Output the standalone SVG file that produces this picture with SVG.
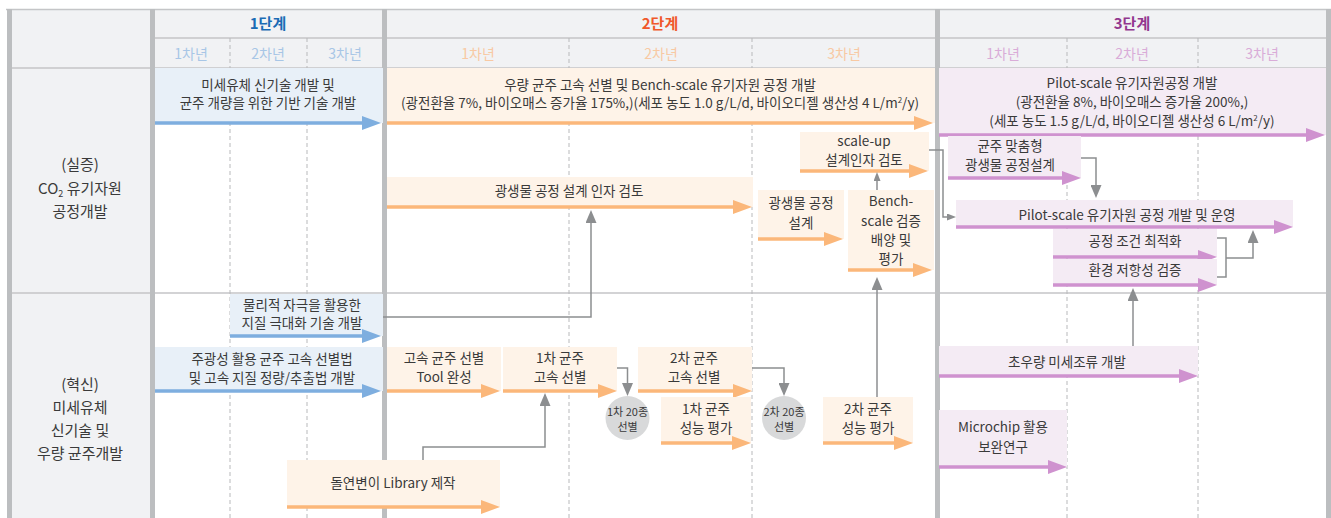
<svg xmlns="http://www.w3.org/2000/svg" width="1331" height="518" viewBox="0 0 1331 518">
<style>
text{font-family:"Noto Sans CJK KR","Noto Sans",sans-serif;fill:#3a3a3a;font-size:13.5px;text-anchor:middle}
.hd{font-size:15px;font-weight:bold}
.yr{font-size:14px}
.lb{font-size:15px}
.bb{fill:#e8f0f8}.bo{fill:#fef3e8}.bp{fill:#f4ebf4}
.ab{stroke:#7eaedf;stroke-width:3.5;fill:none;marker-end:url(#mb)}
.ao{stroke:#fbb77a;stroke-width:3.5;fill:none;marker-end:url(#mo)}
.ap{stroke:#cf92cf;stroke-width:3.5;fill:none;marker-end:url(#mp)}
.cg{stroke:#8c8e90;stroke-width:1.5;fill:none}
.gl{marker-end:url(#mg)}
.gs{marker-end:url(#ms)}
.dash{stroke:#b8b9bb;stroke-width:1;stroke-dasharray:4 3}
.thin{stroke:#c4c5c7;stroke-width:1.5}
.sep{fill:#bcbec0}
.circ{fill:#d8d9da}
.ct{font-size:11px}
</style>
<defs>
<marker id="mb" markerUnits="userSpaceOnUse" markerWidth="19" markerHeight="14" refX="7" refY="7" orient="auto"><path d="M0,0 L19,7 L0,14 z" fill="#7eaedf"/></marker>
<marker id="mo" markerUnits="userSpaceOnUse" markerWidth="19" markerHeight="14" refX="7" refY="7" orient="auto"><path d="M0,0 L19,7 L0,14 z" fill="#fbb77a"/></marker>
<marker id="mp" markerUnits="userSpaceOnUse" markerWidth="19" markerHeight="14" refX="7" refY="7" orient="auto"><path d="M0,0 L19,7 L0,14 z" fill="#cf92cf"/></marker>
<marker id="mg" markerUnits="userSpaceOnUse" markerWidth="13" markerHeight="11" refX="3" refY="5.5" orient="auto"><path d="M0,0 L13,5.5 L0,11 z" fill="#8c8e90"/></marker>
<marker id="ms" markerUnits="userSpaceOnUse" markerWidth="9" markerHeight="7" refX="3" refY="3.5" orient="auto"><path d="M0,0 L9,3.5 L0,7 z" fill="#8c8e90"/></marker>
</defs>

<g id="grid">
<rect x="7" y="9" width="1322" height="59" fill="#f1f2f4"/>
<rect x="7" y="68" width="146" height="450" fill="#f1f2f4"/>
<line class="thin" x1="6" y1="9.5" x2="1331" y2="9.5"/>
<line class="thin" x1="153" y1="38" x2="1328" y2="38"/>
<line class="thin" x1="7" y1="68" x2="1328" y2="68"/>
<line class="thin" x1="7" y1="293" x2="1328" y2="293"/>
<line class="dash" x1="230" y1="38" x2="230" y2="518"/>
<line class="dash" x1="307" y1="38" x2="307" y2="518"/>
<line class="dash" x1="569" y1="38" x2="569" y2="518"/>
<line class="dash" x1="752" y1="38" x2="752" y2="518"/>
<line class="dash" x1="1067" y1="38" x2="1067" y2="518"/>
<line class="dash" x1="1198" y1="38" x2="1198" y2="518"/>
<rect class="sep" x="7" y="9" width="5" height="509"/>
<rect class="sep" x="150" y="9" width="5" height="509"/>
<rect class="sep" x="382" y="9" width="5" height="509"/>
<rect class="sep" x="935" y="9" width="5" height="509"/>
<rect class="sep" x="1326" y="9" width="5" height="509"/>
<text class="hd" x="268" y="29" style="fill:#1a6bb5">1단계</text>
<text class="hd" x="660" y="29" style="fill:#f0582a">2단계</text>
<text class="hd" x="1132" y="29" style="fill:#92378f">3단계</text>
<text class="yr" x="191" y="59" style="fill:#a8c6e6">1차년</text>
<text class="yr" x="268" y="59" style="fill:#a8c6e6">2차년</text>
<text class="yr" x="345" y="59" style="fill:#a8c6e6">3차년</text>
<text class="yr" x="478" y="59" style="fill:#f8c9a3">1차년</text>
<text class="yr" x="661" y="59" style="fill:#f8c9a3">2차년</text>
<text class="yr" x="844" y="59" style="fill:#f8c9a3">3차년</text>
<text class="yr" x="1003" y="59" style="fill:#d9acd8">1차년</text>
<text class="yr" x="1132" y="59" style="fill:#d9acd8">2차년</text>
<text class="yr" x="1262" y="59" style="fill:#d9acd8">3차년</text>
</g>

<g id="label-row1">
<text class="lb" x="80" y="170">(실증)</text>
<text class="lb" x="80" y="194">CO<tspan font-size="9" dy="3">2</tspan><tspan dy="-3"> 유기자원</tspan></text>
<text class="lb" x="80" y="217">공정개발</text>
</g>
<g id="label-row2">
<text class="lb" x="80" y="390">(혁신)</text>
<text class="lb" x="80" y="413">미세유체</text>
<text class="lb" x="80" y="436">신기술 및</text>
<text class="lb" x="80" y="459">우량 균주개발</text>
</g>

<g id="n-b1"><rect class="bb" x="155" y="68" width="228" height="55"/><text x="268" y="90">미세유체 신기술 개발 및</text><text x="268" y="108">균주 개량을 위한 기반 기술 개발</text><path class="ab" d="M155,123 H369"/></g>
<g id="n-o1"><rect class="bo" x="387" y="68" width="548" height="55"/><text x="660" y="90">우량 균주 고속 선별 및 Bench-scale 유기자원 공정 개발</text><text x="660" y="108">(광전환율 7%, 바이오매스 증가율 175%,)(세포 농도 1.0 g/L/d, 바이오디젤 생산성 4 L/m<tspan font-size="8" dy="-5">2</tspan><tspan dy="5">/y)</tspan></text><path class="ao" d="M387,123 H921"/></g>
<g id="n-p1"><rect class="bp" x="939" y="68" width="387" height="67"/><text x="1132" y="88">Pilot-scale 유기자원공정 개발</text><text x="1132" y="107">(광전환율 8%, 바이오매스 증가율 200%,)</text><text x="1132" y="126">(세포 농도 1.5 g/L/d, 바이오디젤 생산성 6 L/m<tspan font-size="8" dy="-5">2</tspan><tspan dy="5">/y)</tspan></text><path class="ap" d="M939,135 H1313"/></g>

<g id="n-scaleup"><rect class="bo" x="800" y="132" width="129" height="39"/><text x="864" y="146">scale-up</text><text x="864" y="165">설계인자 검토</text><path class="ao" d="M800,171 H916"/></g>
<g id="n-factor"><rect class="bo" x="387" y="177" width="366" height="30"/><text x="569" y="196">광생물 공정 설계 인자 검토</text><path class="ao" d="M387,207 H740"/></g>
<g id="n-design"><rect class="bo" x="758" y="190" width="86" height="49"/><text x="801" y="208">광생물 공정</text><text x="801" y="228">설계</text><path class="ao" d="M758,239 H831"/></g>
<g id="n-bench"><rect class="bo" x="848" y="190" width="86" height="80"/><text x="891" y="206">Bench-</text><text x="891" y="226">scale 검증</text><text x="891" y="245">배양 및</text><text x="891" y="264">평가</text><path class="ao" d="M848,270 H920"/></g>

<g id="n-custom"><rect class="bp" x="948" y="136" width="133" height="42"/><text x="1010" y="151">균주 맞춤형</text><text x="1010" y="170">광생물 공정설계</text><path class="ap" d="M948,178 H1069"/></g>
<g id="n-pilot"><rect class="bp" x="956" y="200" width="337" height="27"/><text x="1127" y="220">Pilot-scale 유기자원 공정 개발 및 운영</text><path class="ap" d="M956,227 H1281"/></g>
<g id="n-opt"><rect class="bp" x="1053" y="229" width="164" height="28"/><text x="1135" y="246">공정 조건 최적화</text><path class="ap" d="M1053,257 H1205"/></g>
<g id="n-env"><rect class="bp" x="1053" y="259" width="164" height="26"/><text x="1135" y="275">환경 저항성 검증</text><path class="ap" d="M1053,285 H1205"/></g>

<g id="n-phys"><rect class="bb" x="230" y="294" width="153" height="42"/><text x="302" y="310">물리적 자극을 활용한</text><text x="302" y="328">지질 극대화 기술 개발</text><path class="ab" d="M230,336 H369"/></g>
<g id="n-photo"><rect class="bb" x="155" y="347" width="228" height="44"/><text x="272" y="364">주광성 활용 균주 고속 선별법</text><text x="272" y="383">및 고속 지질 정량/추출법 개발</text><path class="ab" d="M155,391 H369"/></g>
<g id="n-tool"><rect class="bo" x="387" y="347" width="114" height="44"/><text x="444" y="363">고속 균주 선별</text><text x="444" y="382">Tool 완성</text><path class="ao" d="M387,391 H488"/></g>
<g id="n-sel1"><rect class="bo" x="503" y="347" width="114" height="44"/><text x="560" y="363">1차 균주</text><text x="560" y="382">고속 선별</text><path class="ao" d="M503,391 H605"/></g>
<g id="n-sel2"><rect class="bo" x="638" y="347" width="114" height="44"/><text x="694" y="363">2차 균주</text><text x="694" y="382">고속 선별</text><path class="ao" d="M638,391 H740"/></g>
<g id="n-c1"><circle class="circ" cx="627.5" cy="418" r="22"/><text class="ct" x="627.5" y="416">1차 20종</text><text class="ct" x="627.5" y="431">선별</text></g>
<g id="n-c2"><circle class="circ" cx="784" cy="418" r="22"/><text class="ct" x="784" y="416">2차 20종</text><text class="ct" x="784" y="431">선별</text></g>
<g id="n-eval1"><rect class="bo" x="661" y="397" width="90" height="46"/><text x="706" y="414">1차 균주</text><text x="706" y="433">성능 평가</text><path class="ao" d="M661,443 H739"/></g>
<g id="n-eval2"><rect class="bo" x="823" y="397" width="90" height="46"/><text x="868" y="414">2차 균주</text><text x="868" y="433">성능 평가</text><path class="ao" d="M823,443 H901"/></g>
<g id="n-lib"><rect class="bo" x="287" y="460" width="213" height="47"/><text x="393" y="488">돌연변이 Library 제작</text><path class="ao" d="M287,507 H488"/></g>
<g id="n-algae"><rect class="bp" x="939" y="346" width="259" height="30"/><text x="1067" y="367">초우량 미세조류 개발</text><path class="ap" d="M939,376 H1186"/></g>
<g id="n-chip"><rect class="bp" x="939" y="410" width="128" height="57"/><text x="1003" y="432">Microchip 활용</text><text x="1003" y="452">보완연구</text><path class="ap" d="M939,467 H1055"/></g>

<g id="connectors">
<path class="cg gl" d="M383,317 H591 V220"/>
<path class="cg gl" d="M423,460 V447 H545 V403"/>
<path class="cg gl" d="M617,368 H627.5 V386"/>
<path class="cg gl" d="M752,368 H784 V386"/>
<path class="cg gl" d="M877,397 V287"/>
<path class="cg gs" d="M877,190 V178"/>
<path class="cg gs" d="M929,150 H943 V217 H950"/>
<path class="cg gl" d="M1081,158 H1096 V188"/>
<path class="cg" d="M1217,238 H1226 V277 H1217"/>
<path class="cg gl" d="M1226,258 H1253 V240"/>
<path class="cg gl" d="M1133,346 V298"/>
</g>
</svg>
